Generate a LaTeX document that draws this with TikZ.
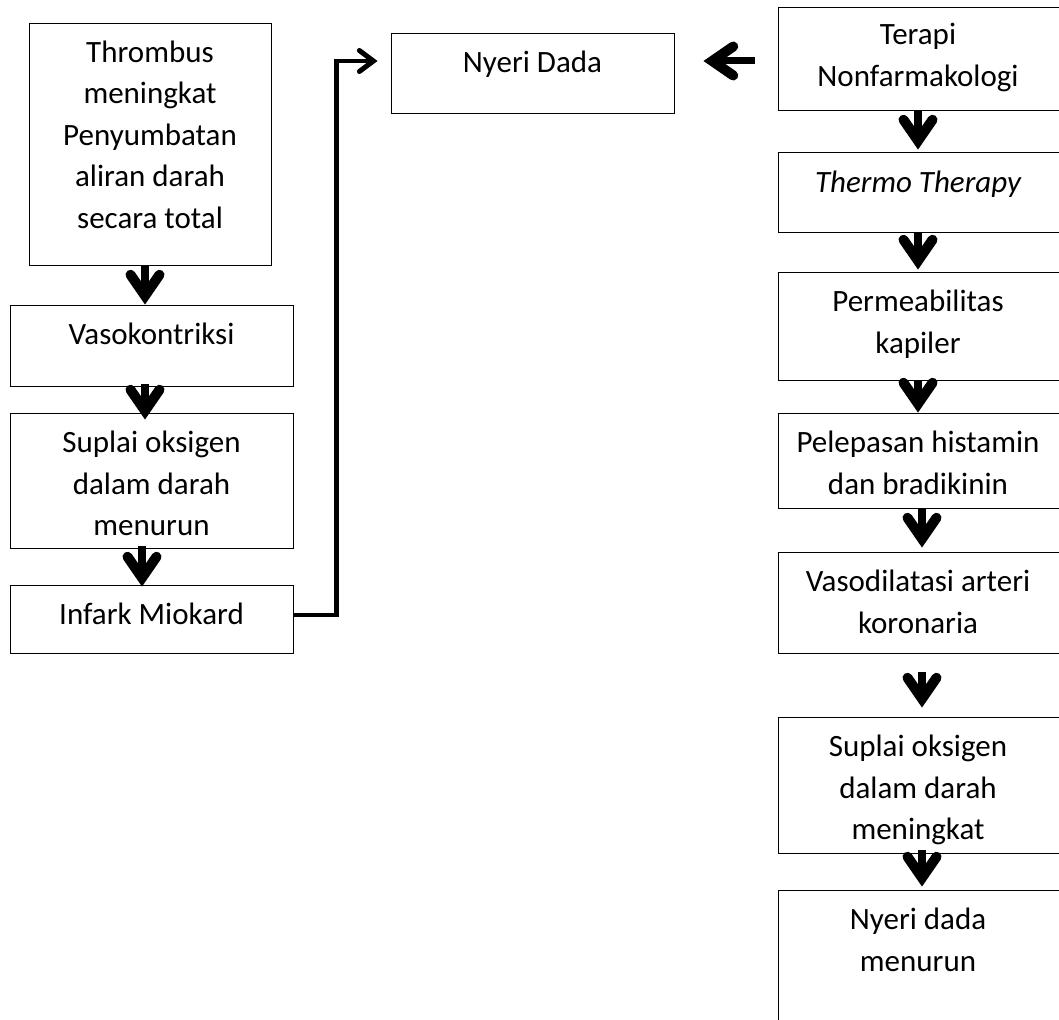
\documentclass[tikz,border=0pt]{standalone}
\usepackage{fontspec}
\setmainfont{Carlito}
\usetikzlibrary{arrows.meta}
\newcommand\fsz{\fontsize{31}{41.5}\selectfont}
\begin{document}
\begin{tikzpicture}[x=1pt,y=-1pt,
  box/.style={draw, line width=0.9pt, inner sep=0pt},
  lbl/.style={anchor=north, align=center, inner sep=0pt, font=\fsz},
  fat/.style={line width=8pt, -{Straight Barb[length=21pt, width=29pt, line width=10pt, line cap=round, line join=miter]}},
  elb/.style={line width=4.5pt, -{Straight Barb[length=14pt, width=21pt, line width=5pt, line cap=round, line join=miter]}}
]
\useasboundingbox (0,0) rectangle (1059,1019);
% left column
\node[box, minimum width=242pt, minimum height=242pt] (thr) at (150,144) {};
\node[box, minimum width=283pt, minimum height=81pt] (vaso) at (151.5,345.5) {};
\node[box, minimum width=283pt, minimum height=135pt] (sup1) at (151.5,480.5) {};
\node[box, minimum width=283pt, minimum height=68pt] (inf) at (151.5,619) {};
% middle
\node[box, minimum width=283pt, minimum height=80pt] (nd) at (532.5,73) {};
% right column
\node[box, minimum width=286pt, minimum height=103pt] (ter) at (921,58.5) {};
\node[box, minimum width=286pt, minimum height=80pt] (thm) at (921,192) {};
\node[box, minimum width=286pt, minimum height=108pt] (per) at (921,326) {};
\node[box, minimum width=286pt, minimum height=95pt] (pel) at (921,460.5) {};
\node[box, minimum width=286pt, minimum height=101pt] (vsd) at (921,602.5) {};
\node[box, minimum width=286pt, minimum height=136pt] (sup2) at (921,785) {};
\node[box, minimum width=286pt, minimum height=140pt] (nyr) at (921,960) {};
% labels
\node[lbl] (thrL) at ([yshift=-10.5pt]thr.north) {\strut Thrombus\\meningkat\\Penyumbatan\\aliran darah\\secara total};
\node[lbl] (vasoL) at ([yshift=-11pt]vaso.north) {\strut Vasokontriksi};
\node[lbl] (sup1L) at ([yshift=-11pt]sup1.north) {\strut Suplai oksigen\\dalam darah\\menurun};
\node[lbl] (infL) at ([yshift=-11pt]inf.north) {\strut Infark Miokard};
\node[lbl] (ndL) at ([yshift=-11pt]nd.north) {\strut Nyeri Dada};
\node[lbl] (terL) at ([xshift=-3pt,yshift=-9pt]ter.north) {\strut Terapi\\Nonfarmakologi};
\node[lbl] (thmL) at ([xshift=-3pt,yshift=-12pt]thm.north) {\strut\itshape Thermo Therapy};
\node[lbl] (perL) at ([xshift=-3pt,yshift=-11pt]per.north) {\strut Permeabilitas\\kapiler};
\node[lbl] (pelL) at ([xshift=-3pt,yshift=-11pt]pel.north) {\strut Pelepasan histamin\\dan bradikinin};
\node[lbl] (vsdL) at ([xshift=-3pt,yshift=-11pt]vsd.north) {\strut Vasodilatasi arteri\\koronaria};
\node[lbl] (sup2L) at ([xshift=-3pt,yshift=-11pt]sup2.north) {\strut Suplai oksigen\\dalam darah\\meningkat};
\node[lbl] (nyrL) at ([xshift=-3pt,yshift=-11pt]nyr.north) {\strut Nyeri dada\\menurun};
% left arrows
\draw[fat] ([xshift=-5pt,yshift=-1pt]thr.south) -- ([xshift=-6.5pt]vaso.north);
\draw[fat] ([xshift=-6.5pt,yshift=2pt]vaso.south) -- ([xshift=-6.5pt,yshift=-7pt]sup1.north);
\draw[fat] ([xshift=-9.5pt,yshift=2pt]sup1.south) -- ([xshift=-9.5pt,yshift=-2pt]inf.north);
% right arrows
\draw[fat] ([xshift=-3pt]ter.south) -- ([xshift=-3pt,yshift=2pt]thm.north);
\draw[fat] ([xshift=-3pt]thm.south) -- ([xshift=-3pt,yshift=2pt]per.north);
\draw[fat] ([xshift=-3pt]per.south) -- ([xshift=-3pt]pel.north);
\draw[fat] ([xshift=1pt]pel.south) -- ([xshift=1pt,yshift=4pt]vsd.north);
\draw[fat] ([xshift=1pt,yshift=-19pt]vsd.south) -- ([xshift=1pt,yshift=9pt]sup2.north);
\draw[fat] ([xshift=1pt,yshift=3pt]sup2.south) -- ([xshift=1pt,yshift=3pt]nyr.north);
% horizontal arrows
\draw[fat, line width=7pt] ([xshift=-23pt,yshift=-2.5pt]ter.west) -- ([xshift=29pt,yshift=12pt]nd.east);
\draw[elb] ([yshift=4pt]inf.east) -- ++(43,0) |- ([xshift=-13pt,yshift=12pt]nd.west);
\end{tikzpicture}
\end{document}
